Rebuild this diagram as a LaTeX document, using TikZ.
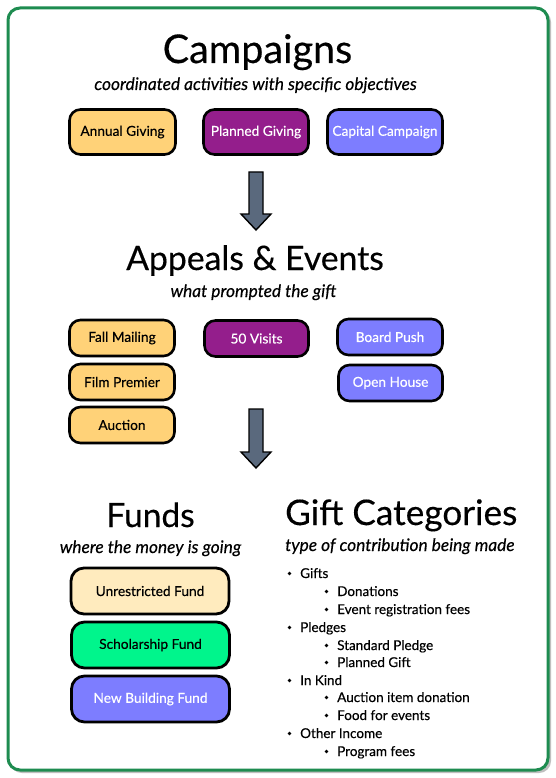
\documentclass[tikz,border=0pt]{standalone}
\usepackage{fontspec}
\setmainfont{Lato}[FakeBold=0.35, AutoFakeBold=0.35]
\usetikzlibrary{shadows}
\definecolor{frameg}{RGB}{30,140,80}
\definecolor{yel}{RGB}{255,210,120}
\definecolor{pur}{RGB}{148,30,140}
\definecolor{blu}{RGB}{125,125,255}
\definecolor{cream}{RGB}{255,235,190}
\definecolor{mint}{RGB}{0,245,140}
\definecolor{arrowf}{RGB}{90,105,125}
\tikzset{
  pill/.style={draw=black, line width=2.6pt, rounded corners=11pt, inner sep=0pt,
    font=\fontsize{13.7}{13.7}\selectfont\bfseries, drop shadow={opacity=0.25,shadow xshift=1pt,shadow yshift=-1pt}},
  big/.style={draw=black, line width=2.8pt, rounded corners=13pt, inner sep=0pt,
    font=\fontsize{13.7}{13.7}\selectfont\bfseries, minimum width=158pt, minimum height=46pt,
    drop shadow={opacity=0.25,shadow xshift=1pt,shadow yshift=-1pt}},
  ttl/.style={anchor=base, inner sep=0pt},
  sub/.style={anchor=base, inner sep=0pt, font=\fontsize{17.3}{17.3}\selectfont\itshape\bfseries},
  blockarrow/.style={draw=black, line width=1.4pt, fill=arrowf, line join=miter},
  li/.style={anchor=base west, inner sep=0pt, font=\fontsize{13.5}{13.5}\selectfont\bfseries},
  dot/.style={circle, fill=black, inner sep=0pt, minimum size=3.6pt},
}
\begin{document}
\begin{tikzpicture}[x=1pt,y=-1pt]
\useasboundingbox (0,0) rectangle (555,778);
\fill[white] (0,0) rectangle (555,778);
% frame
\fill[black!25, rounded corners=12pt] (10,10) rectangle (551,773);
\draw[frameg, line width=3pt, fill=white, rounded corners=12pt] (8,8) rectangle (548,770);

% Campaigns
\node[ttl, font=\fontsize{39.5}{39.5}\selectfont\bfseries] (tcamp) at (257.5,63) {Campaigns};
\node[sub] (scamp) at (255.5,90) {coordinated activities with specific objectives};
\node[pill, fill=yel, minimum width=106pt, minimum height=45pt] (annual) at (122.5,132) {Annual Giving};
\node[pill, fill=pur, text=white, minimum width=105pt, minimum height=45pt] (planned) at (256,132) {Planned Giving};
\node[pill, fill=blu, text=white, minimum width=115pt, minimum height=45pt] (capital) at (385,132) {Capital Campaign};

% arrow 1
\draw[blockarrow] (249,172) -- (263,172) -- (263,214) -- (271,214) -- (256,230) -- (241,214) -- (249,214) -- cycle;

% Appeals
\node[ttl, font=\fontsize{33.7}{33.7}\selectfont\bfseries] (tapp) at (255,270) {Appeals \& Events};
\node[sub] (sapp) at (253.5,297) {what prompted the gift};
\node[pill, fill=yel, minimum width=105pt, minimum height=36pt] (fall) at (122,338) {Fall Mailing};
\node[pill, fill=yel, minimum width=105pt, minimum height=36pt] (film) at (122,382) {Film Premier};
\node[pill, fill=yel, minimum width=105pt, minimum height=36pt] (auction) at (122,425) {Auction};
\node[pill, fill=pur, text=white, minimum width=104pt, minimum height=36pt] (visits) at (256.5,338.5) {50 Visits};
\node[pill, fill=blu, text=white, minimum width=105pt, minimum height=36pt] (board) at (390,337) {Board Push};
\node[pill, fill=blu, text=white, minimum width=104pt, minimum height=36pt] (open) at (390.5,383) {Open House};

% arrow 2
\draw[blockarrow] (249,409) -- (263,409) -- (263,452) -- (271,452) -- (256,468) -- (241,452) -- (249,452) -- cycle;

% Funds
\node[ttl, font=\fontsize{33.5}{33.5}\selectfont\bfseries] (tfunds) at (150.5,527) {Funds};
\node[sub] (sfunds) at (150.5,553) {where the money is going};
\node[big, fill=cream] (unres) at (150,591) {Unrestricted Fund};
\node[big, fill=mint] (schol) at (150.5,645) {Scholarship Fund};
\node[big, fill=blu, text=white] (newb) at (150.5,699) {New Building Fund};

% Gift categories
\node[ttl, anchor=base west, font=\fontsize{35.2}{35.2}\selectfont\bfseries] (tgift) at (285,525) {Gift Categories};
\node[sub, anchor=base west] (sgift) at (285,551) {type of contribution being made};
\foreach \y/\lvl/\txt [count=\i] in {
  578/1/Gifts, 596/2/Donations, 614/2/Event registration fees,
  632/1/Pledges, 650/2/Standard Pledge, 667/2/Planned Gift,
  685/1/In Kind, 702/2/Auction item donation, 720/2/Food for events,
  738/1/Other Income, 756/2/Program fees}{
  \ifnum\lvl=1
    \node[dot] (b\i) at (289.5,\y-4.5) {};
    \node[li] (l\i) at (300,\y) {\txt};
  \else
    \node[dot] (b\i) at (326.5,\y-4.5) {};
    \node[li] (l\i) at (337,\y) {\txt};
  \fi
}
\end{tikzpicture}
\end{document}
